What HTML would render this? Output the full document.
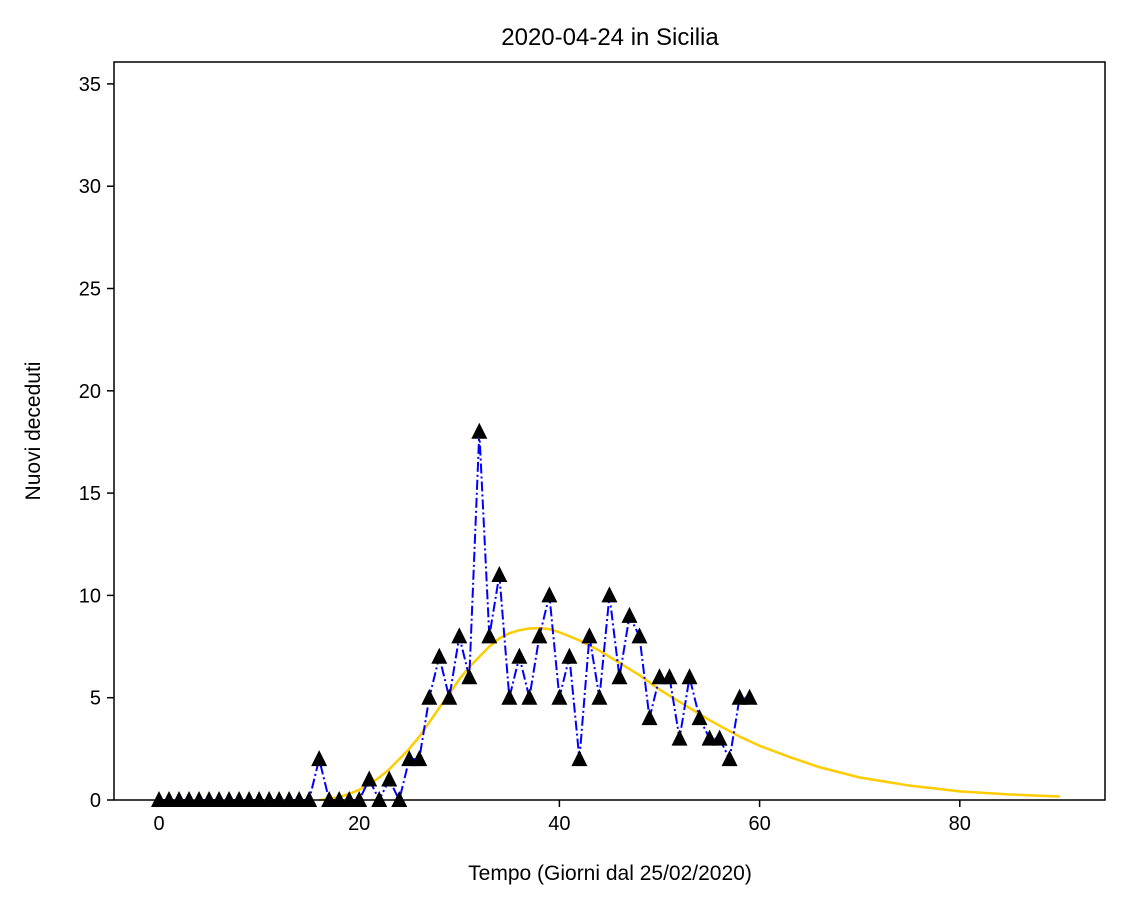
<!DOCTYPE html>
<html><head><meta charset="utf-8"><style>
body{margin:0;background:#fff}
text{font-family:"Liberation Sans","DejaVu Sans",sans-serif;fill:#000}
</style></head><body>
<svg id="chart" width="1126" height="908" xmlns="http://www.w3.org/2000/svg">
<text x="610" y="45" font-size="24" text-anchor="middle">2020-04-24 in Sicilia</text>
<g id="grid"></g>
<g id="fit"></g>
<g id="series"></g>
<rect x="114" y="62" width="991" height="738" fill="none" stroke="#000" stroke-width="1.5"/>
<g id="ticks"></g>
<text x="610" y="880" font-size="21" text-anchor="middle">Tempo (Giorni dal 25/02/2020)</text>
<text transform="translate(40,431) rotate(-90)" font-size="21" text-anchor="middle">Nuovi deceduti</text>
</svg>
<script>
const days=[0,1,2,3,4,5,6,7,8,9,10,11,12,13,14,15,16,17,18,19,20,21,22,23,24,25,26,27,28,29,30,31,32,33,34,35,36,37,38,39,40,41,42,43,44,45,46,47,48,49,50,51,52,53,54,55,56,57,58,59];
const deaths=[0,0,0,0,0,0,0,0,0,0,0,0,0,0,0,0,2,0,0,0,0,1,0,1,0,2,2,5,7,5,8,6,18,8,11,5,7,5,8,10,5,7,2,8,5,10,6,9,8,4,6,6,3,6,4,3,3,2,5,5];
const fitX=[16,17,18,19,20,21,22,23,24,25,26,27,28,29,30,31,32,33,34,35,36,37,38,39,40,42,44,46,48,50,52,55,58,60,63,66,70,75,80,85,90];
const fitY=[0,0.05,0.15,0.3,0.5,0.75,1.1,1.5,2.0,2.5,3.1,3.8,4.5,5.2,5.9,6.5,7.0,7.5,7.9,8.15,8.3,8.38,8.4,8.35,8.2,7.8,7.3,6.7,6.1,5.4,4.8,3.9,3.1,2.65,2.1,1.6,1.1,0.7,0.42,0.27,0.17];
const xTicks=[0,20,40,60,80];
const yTicks=[0,5,10,15,20,25,30,35];
const X=v=>159+v*10.01, Y=v=>800-v*20.46;
const NS="http://www.w3.org/2000/svg";
function mk(p,t,a){const e=document.createElementNS(NS,t);for(const k in a)e.setAttribute(k,a[k]);document.getElementById(p).appendChild(e);return e;}
const fl=mk('fit','polyline',{points:fitX.map((x,i)=>X(x)+','+Y(fitY[i])).join(' '),fill:'none',stroke:'#ffcc00','stroke-width':2.5,'stroke-linejoin':'round'});


const ln=mk('series','polyline',{points:days.map((d,i)=>X(d)+','+Y(deaths[i])).join(' '),fill:'none',stroke:'#0000ff','stroke-width':2,'stroke-dasharray':'10 3 2 3'});


days.forEach((d,i)=>{const x=X(d),y=Y(deaths[i]);
const m=mk('series','polygon',{points:`${x},${y-9} ${x-8},${y+7} ${x+8},${y+7}`,fill:'#000'});

});
xTicks.forEach(v=>{const x=X(v);
const t=mk('ticks','line',{x1:x,x2:x,y1:800,y2:807,stroke:'#000','stroke-width':1.5});


const l=mk('ticks','text',{x:x,y:830,'font-size':20,'text-anchor':'middle'});l.textContent=v;

});
yTicks.forEach(v=>{const y=Y(v);
const t=mk('ticks','line',{x1:107,x2:114,y1:y,y2:y,stroke:'#000','stroke-width':1.5});


const l=mk('ticks','text',{x:101,y:y+7,'font-size':20,'text-anchor':'end'});l.textContent=v;

});
</script>
</body></html>
